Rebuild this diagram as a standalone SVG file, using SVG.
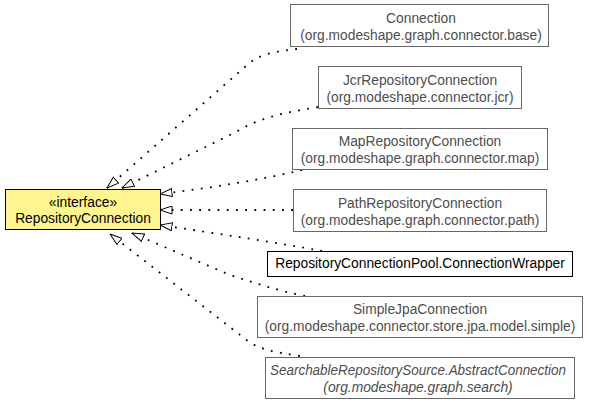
<svg xmlns="http://www.w3.org/2000/svg" width="589" height="405" viewBox="0 0 589 405">
<style>
  text { font-family: "Liberation Sans", Arial, sans-serif; font-size: 13.8px; text-anchor: middle; }
  .sub rect { fill: #fff; stroke: #666; stroke-width: 1; }
  .sub text { fill: #4d4d4d; }
  .blk rect { fill: #fff; stroke: #000; stroke-width: 1; }
  .blk text { fill: #000; }
  .main rect { fill: #fff58f; stroke: #000; stroke-width: 1; }
  .main text { fill: #000; }
  .it { font-style: italic; }
  .edge { fill: none; stroke: #000; stroke-width: 1.8; stroke-dasharray: 1.8 7.4; marker-end: url(#hollow); }
</style>
<defs>
  <marker id="hollow" viewBox="0 0 13 9" refX="12.5" refY="4.5" markerWidth="13" markerHeight="9" markerUnits="userSpaceOnUse" orient="auto">
    <path d="M0.5,0.5 L12.5,4.5 L0.5,8.5 Z" fill="#fff" stroke="#000" stroke-width="1" stroke-dasharray="none"/>
  </marker>
</defs>
<rect width="589" height="405" fill="#fff"/>
<g id="connectors">
  <path class="edge" d="M297,49 C270,52 258,55 246,66 L107,188"/>
  <path class="edge" d="M318,107 C290,112 262,116 236,132 L122,188"/>
  <path class="edge" d="M302,170 C260,180 210,188 160,194"/>
  <path class="edge" d="M293,210 L160,210"/>
  <path class="edge" d="M322,251 C280,243 220,234 160,225"/>
  <path class="edge" d="M305,296 C275,290 255,283 230,275 L132,233"/>
  <path class="edge" d="M300,356 C275,352 258,350 244,338 L110,234"/>
</g>
<g id="RepositoryConnection" class="main">
  <rect x="5.5" y="189.5" width="155" height="40"/>
  <text x="83" y="207">«interface»</text>
  <text x="83" y="223">RepositoryConnection</text>
</g>
<g id="Connection" class="sub">
  <rect x="290.5" y="4.5" width="258" height="42"/>
  <text x="421" y="23">Connection</text>
  <text x="421" y="40">(org.modeshape.graph.connector.base)</text>
</g>
<g id="JcrRepositoryConnection" class="sub">
  <rect x="318.5" y="66.5" width="203" height="42"/>
  <text x="420" y="85">JcrRepositoryConnection</text>
  <text x="420" y="102">(org.modeshape.connector.jcr)</text>
</g>
<g id="MapRepositoryConnection" class="sub">
  <rect x="292.5" y="128.5" width="255" height="41"/>
  <text x="420" y="146">MapRepositoryConnection</text>
  <text x="420" y="163">(org.modeshape.graph.connector.map)</text>
</g>
<g id="PathRepositoryConnection" class="sub">
  <rect x="293.5" y="189.5" width="253" height="42"/>
  <text x="420" y="208">PathRepositoryConnection</text>
  <text x="420" y="225">(org.modeshape.graph.connector.path)</text>
</g>
<g id="ConnectionWrapper" class="blk">
  <rect x="267.5" y="251.5" width="305" height="25"/>
  <text x="420" y="268">RepositoryConnectionPool.ConnectionWrapper</text>
</g>
<g id="SimpleJpaConnection" class="sub">
  <rect x="257.5" y="296.5" width="325" height="41"/>
  <text x="420" y="314">SimpleJpaConnection</text>
  <text x="420" y="331">(org.modeshape.connector.store.jpa.model.simple)</text>
</g>
<g id="AbstractConnection" class="sub">
  <rect x="265.5" y="357.5" width="309" height="41"/>
  <text class="it" x="418" y="375" textLength="296" lengthAdjust="spacingAndGlyphs">SearchableRepositorySource.AbstractConnection</text>
  <text class="it" x="418" y="392">(org.modeshape.graph.search)</text>
</g>
</svg>
